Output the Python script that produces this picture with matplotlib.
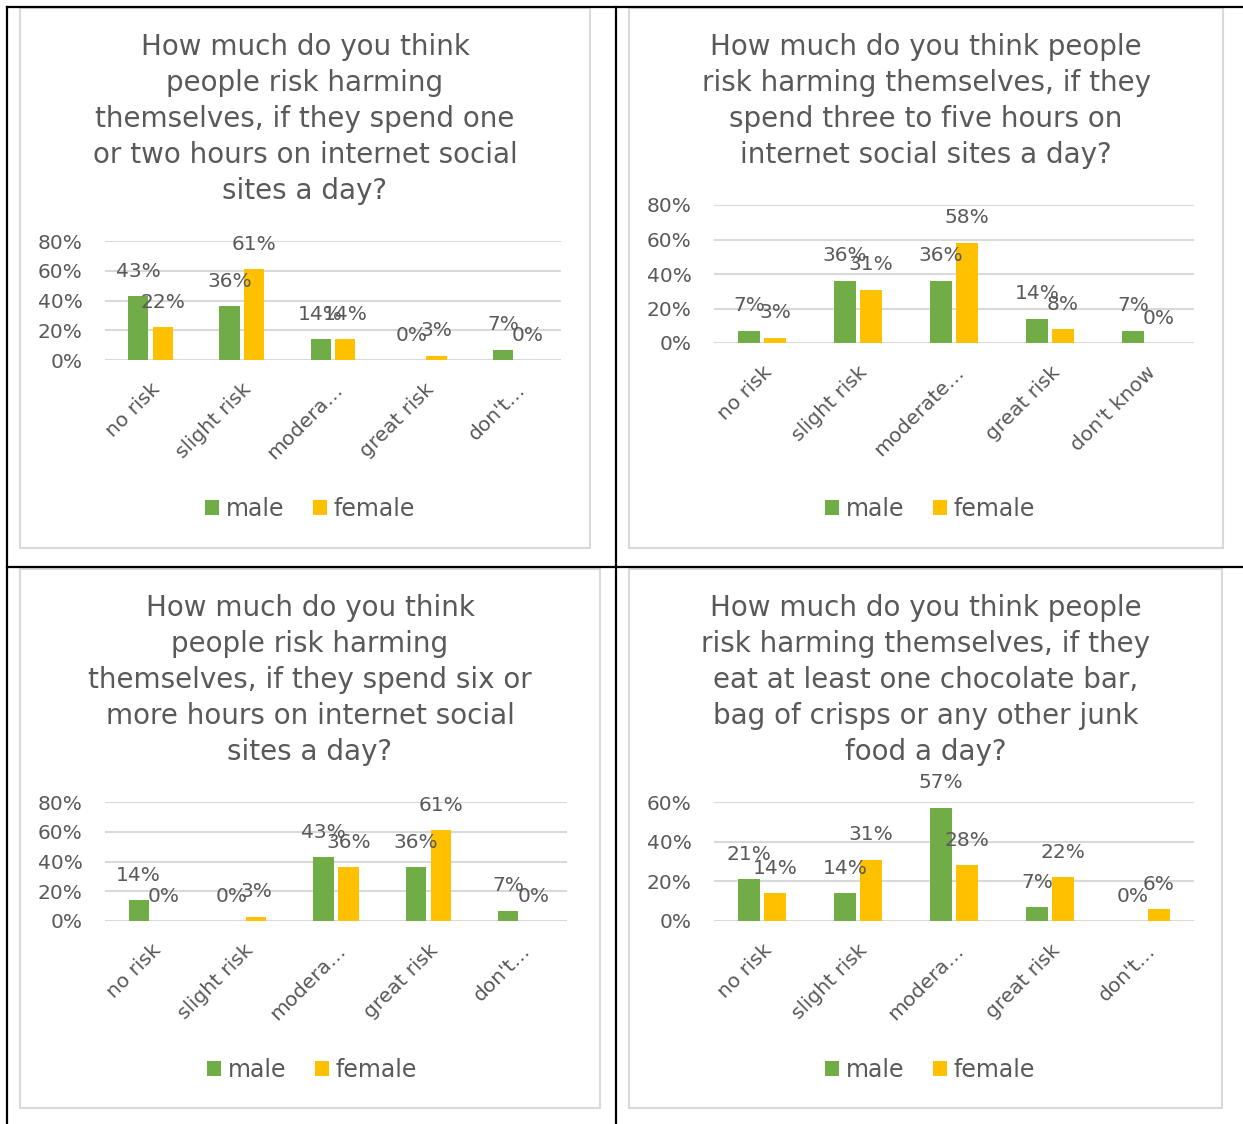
import matplotlib.pyplot as plt
from matplotlib.patches import Patch, Rectangle
from matplotlib.lines import Line2D
from matplotlib.ticker import FuncFormatter, MultipleLocator

W, H = 1243, 1124

# ---------------------------
# Data
# ---------------------------
series_names = ['male', 'female']

cats_short = ['no risk', 'slight risk', 'modera\u2026', 'great risk', 'don\'t\u2026']
cats_p2 = ['no risk', 'slight risk', 'moderate\u2026', 'great risk', 'don\'t know']

title_p1 = ['How much do you think', 'people risk harming', 'themselves, if they spend one',
            'or two hours on internet social', 'sites a day?']
title_p2 = ['How much do you think people', 'risk harming themselves, if they',
            'spend three to five hours on', 'internet social sites a day?']
title_p3 = ['How much do you think', 'people risk harming', 'themselves, if they spend six or',
            'more hours on internet social', 'sites a day?']
title_p4 = ['How much do you think people', 'risk harming themselves, if they',
            'eat at least one chocolate bar,', 'bag of crisps or any other junk', 'food a day?']

male_p1 = [43, 36, 14, 0, 7]
female_p1 = [22, 61, 14, 3, 0]
male_p2 = [7, 36, 36, 14, 7]
female_p2 = [3, 31, 58, 8, 0]
male_p3 = [14, 0, 43, 36, 7]
female_p3 = [0, 3, 36, 61, 0]
male_p4 = [21, 14, 57, 7, 0]
female_p4 = [14, 31, 28, 22, 6]

GREEN = '#70AD47'
GOLD = '#FFC000'
TXT = '#595959'
GRID = '#D9D9D9'

plt.rcParams['font.family'] = ['DejaVu Sans']

fig = plt.figure(figsize=(W / 100, H / 100), dpi=100)


def fx(x):
    return x / W


def fy(y):
    return 1 - y / H


def panel(box, plot, title_lines, title_y, ymax, cats, male, female, legend_xy):
    bx0, by0, bx1, by1 = box
    # chart frame
    fig.patches.append(Rectangle((fx(bx0), fy(by1)), fx(bx1 - bx0), (by1 - by0) / H,
                                 transform=fig.transFigure, fill=False,
                                 edgecolor=GRID, lw=1.5))
    cx = (bx0 + bx1) / 2
    for i, line in enumerate(title_lines):
        fig.text(fx(cx), fy(title_y + 36 * i), line, ha='center', va='center',
                 fontsize=20, color=TXT)

    x0, x1, ytop, ybot = plot
    ax = fig.add_axes([fx(x0), fy(ybot), fx(x1 - x0), (ybot - ytop) / H])
    idx = list(range(len(cats)))
    bw = 0.22
    off = 0.135
    ax.bar([i - off for i in idx], [v / 100 for v in male], bw, color=GREEN, zorder=3)
    ax.bar([i + off for i in idx], [v / 100 for v in female], bw, color=GOLD, zorder=3)
    for i in idx:
        for o, v in ((-off, male[i]), (off, female[i])):
            ax.annotate(f'{v}%', (i + o, v / 100), xytext=(0, 18), textcoords='offset points',
                        ha='center', va='center', fontsize=14.5, color=TXT, zorder=5,
                        annotation_clip=False)
    ax.set_xlim(-0.5, len(cats) - 0.5)
    ax.set_ylim(0, ymax / 100)
    ax.yaxis.set_major_locator(MultipleLocator(0.2))
    ax.yaxis.set_major_formatter(FuncFormatter(lambda v, p: f'{v * 100:.0f}%'))
    ax.grid(axis='y', color=GRID, lw=1.5, zorder=0)
    for s in ax.spines.values():
        s.set_visible(False)
    ax.set_facecolor('none')
    ax.tick_params(axis='y', length=0, pad=16, labelsize=14.5, labelcolor=TXT)
    ax.set_xticks(idx)
    ax.set_xticklabels(cats, rotation=45, ha='right', rotation_mode='anchor',
                       fontsize=14.5, color=TXT)
    ax.tick_params(axis='x', length=0, pad=14)

    handles = [Patch(facecolor=GREEN), Patch(facecolor=GOLD)]
    fig.legend(handles, series_names, loc='center', ncol=2, frameon=False,
               bbox_to_anchor=(fx(legend_xy[0]), fy(legend_xy[1])),
               bbox_transform=fig.transFigure, fontsize=17, labelcolor=TXT,
               handlelength=0.6, handleheight=0.6, handletextpad=0.3,
               columnspacing=1.2)


panel((20, 8, 590, 548), (105, 561, 241, 360), title_p1, 47, 80,
      cats_short, male_p1, female_p1, (310, 509))
panel((629, 8, 1223, 548), (714, 1194, 205, 343), title_p2, 47, 80,
      cats_p2, male_p2, female_p2, (930, 509))
panel((20, 569, 600, 1108), (105, 567, 802, 921), title_p3, 608, 80,
      cats_short, male_p3, female_p3, (312, 1070))
panel((629, 569, 1222, 1108), (714, 1194, 802, 921), title_p4, 608, 60,
      cats_short, male_p4, female_p4, (930, 1070))

# table borders around the charts
for xs, ys in (((7, 1243), (7, 7)), ((7, 1243), (567, 567)),
               ((7, 7), (7, 1124)), ((616, 616), (7, 1124))):
    fig.lines.append(Line2D([fx(v) for v in xs], [fy(v) for v in ys],
                            transform=fig.transFigure, color='black', lw=1.6))

fig.savefig('out.png', dpi=100)
